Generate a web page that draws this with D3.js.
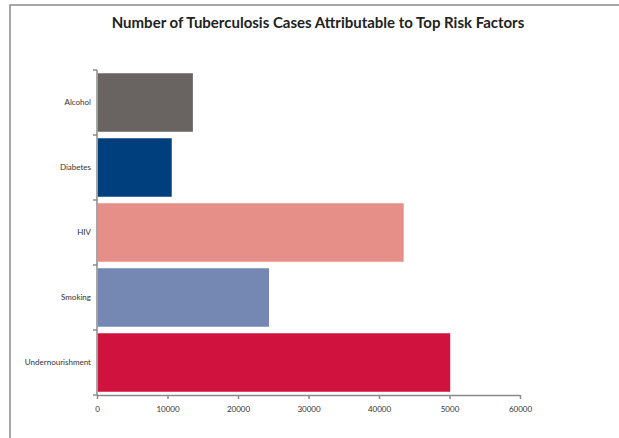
<!DOCTYPE html>
<html>
<meta charset="utf-8">
<style>
	body { margin: 0; padding: 0; background: #fff; }
	svg { display: block; }
	.axis path, .axis line { stroke: #8a8a8a; stroke-width: 1.5px; }
	.axis text { font: 8px Lato, sans-serif; fill: #333; }
</style>
<body>
<svg id="chart" width="619" height="438"></svg>
<script src="https://cdn.jsdelivr.net/npm/d3@7"></script>
<script>
var categories = ["Alcohol", "Diabetes", "HIV", "Smoking", "Undernourishment"];
var cases = [13600, 10600, 43500, 24400, 50100];
var colors = ["#696462", "#003f7d", "#e58f88", "#7488b3", "#cf133e"];
var xTicks = [0, 10000, 20000, 30000, 40000, 50000, 60000];
var xTickLabels = ["0", "10000", "20000", "30000", "40000", "5000", "60000"];

var svg = d3.select("#chart");

// outer frame (only top and left edges visible)
svg.append("path")
	.attr("d", "M10,438V5H619")
	.attr("fill", "none")
	.attr("stroke", "#8a8a8a")
	.attr("stroke-width", 1.5);

svg.append("text")
	.attr("x", 318)
	.attr("y", 28)
	.attr("text-anchor", "middle")
	.style("font", "bold 15px Lato, sans-serif")
	.style("fill", "#222")
	.text("Number of Tuberculosis Cases Attributable to Top Risk Factors");

var x = d3.scaleLinear().domain([0, 60000]).range([97, 520]);
var y = d3.scaleBand().domain(categories).range([70, 395]).paddingInner(0.1).paddingOuter(0.05);

svg.selectAll(".bar")
	.data(categories)
	.enter().append("rect")
	.attr("class", "bar")
	.attr("x", x(0) + 0.8)
	.attr("y", function(d) { return y(d); })
	.attr("width", function(d, i) { return x(cases[i]) - x(0) - 0.8; })
	.attr("height", y.bandwidth())
	.attr("fill", function(d, i) { return colors[i]; });

var gx = svg.append("g")
	.attr("class", "axis")
	.attr("transform", "translate(0,395)")
	.call(d3.axisBottom(x).tickValues(xTicks).tickSize(4).tickSizeOuter(0)
		.tickFormat(function(d, i) { return xTickLabels[i]; }));
gx.selectAll("text").attr("dy", "1.3em");

// y axis: ticks at band boundaries, labels centred in bands
var bounds = categories.map(function(d) { return y(d) - y.step() * y.paddingInner() / 2; });
bounds.push(395);
var gy = svg.append("g").attr("class", "axis");
gy.append("path").attr("d", "M97,70V395");
gy.selectAll("line")
	.data(bounds)
	.enter().append("line")
	.attr("x1", 93).attr("x2", 97)
	.attr("y1", function(d) { return d; })
	.attr("y2", function(d) { return d; });
gy.selectAll("text")
	.data(categories)
	.enter().append("text")
	.attr("x", 91)
	.attr("y", function(d) { return y(d) + y.bandwidth() / 2; })
	.attr("dy", "0.35em")
	.attr("text-anchor", "end")
	.text(function(d) { return d; });
</script>
</body>
</html>
